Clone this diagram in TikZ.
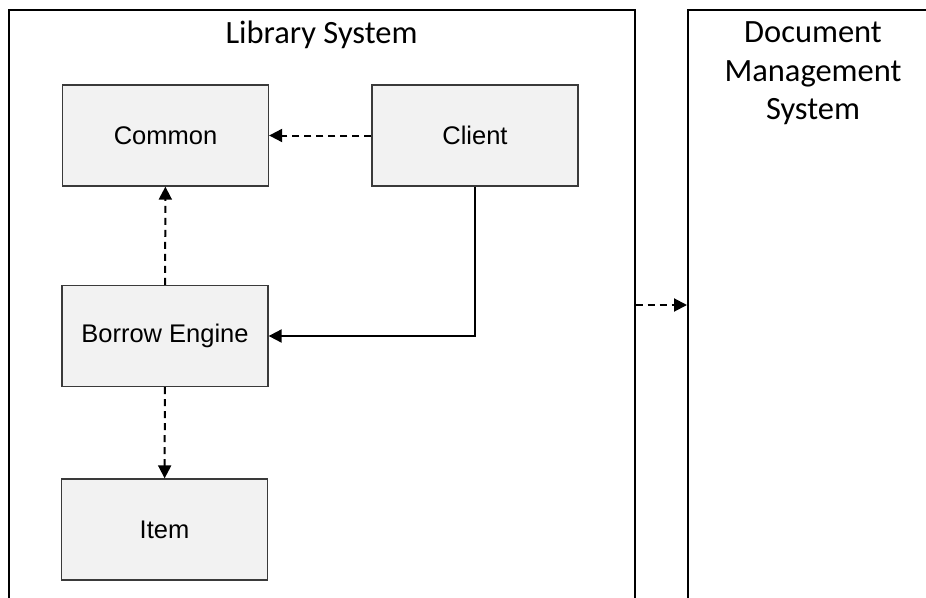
\documentclass[tikz,border=0pt]{standalone}
\usepackage{fontspec}
\setmainfont{Liberation Sans}
\newfontfamily\titlefont{Carlito}
\usetikzlibrary{arrows.meta}
\definecolor{boxgray}{HTML}{F2F2F2}
\definecolor{boxline}{HTML}{3A3A3A}
\begin{document}
\begin{tikzpicture}[x=1pt,y=-1pt,
  comp/.style={draw=boxline, line width=1.3pt, fill=boxgray, minimum width=206pt, minimum height=101pt, inner sep=0pt, font=\fontsize{25.5}{30}\selectfont},
  sys/.style={draw=black, line width=1.5pt, inner sep=0pt, anchor=north west},
  dep/.style={line width=2pt, dash pattern=on 7pt off 5pt, -{Triangle[length=13pt,width=13pt]}},
  use/.style={line width=2pt, -{Triangle[length=13pt,width=13pt]}},
  title/.style={font=\titlefont\fontsize{32.5}{38.5}\selectfont, align=center, inner sep=0pt}
]
\useasboundingbox (0,0) rectangle (926,597);
\clip (0,0) rectangle (926,597);
\fill[white] (0,0) rectangle (926,597);
\node[sys, minimum width=626pt, minimum height=640pt] (lib) at (8,9) {};
\node[sys, minimum width=320pt, minimum height=640pt] (dms) at (687,9) {};
\node[title, anchor=base] (libt) at (321.5,43) {Library System};
\node[title, anchor=north] (dmst) at (813,21.5) {Document\\Management\\System};
\node[comp] (common) at (165.5,135.5) {Common};
\node[comp] (client) at (475,135.5) {Client};
\node[comp] (borrow) at (165,336) {Borrow Engine};
\node[comp] (item) at (164.5,529.5) {Item};
\draw[dep] (client) -- (common);
\draw[dep] (borrow) -- (common);
\draw[dep] (borrow) -- (item);
\draw[use] (client.south) |- (borrow.east);
\coordinate (m) at (660,305);
\draw[dep] (lib.east |- m) -- (dms.west |- m);
\end{tikzpicture}
\end{document}
